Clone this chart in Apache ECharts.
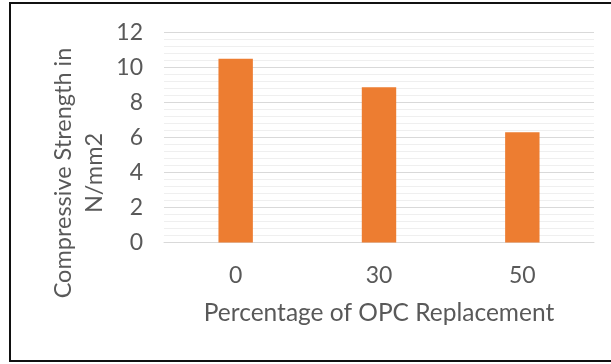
<!DOCTYPE html>
<html>
<head>
<meta charset="utf-8">
<script src="https://cdn.jsdelivr.net/npm/echarts@6/dist/echarts.min.js"></script>
<style>
  html, body { margin: 0; padding: 0; background: #ffffff; }
  #chart { width: 611px; height: 364px; }
</style>
</head>
<body>
<div id="chart"></div>
<script>
// OPC replacement levels (%) and measured compressive strength (N/mm2)
const categories = ['0', '30', '50'];
const strengthValues = [10.5, 8.87, 6.3];
const yTicks = [0, 2, 4, 6, 8, 10, 12];

const xTitle = 'Percentage of OPC Replacement';
const yTitle = 'Compressive Strength in\nN/mm2';

const textColor = '#595959';
const fontFamily = 'Lato, "Open Sans", sans-serif';

const chart = echarts.init(document.getElementById('chart'), null, { renderer: 'canvas' });

chart.setOption({
  backgroundColor: '#ffffff',
  animation: false,
  grid: { left: 164, right: 17, top: 32.5, bottom: 121.5, containLabel: false },
  xAxis: {
    type: 'category',
    data: categories,
    axisLine: { show: true, lineStyle: { color: '#d9d9d9', width: 1 } },
    axisTick: { show: false },
    axisLabel: { color: textColor, fontFamily: fontFamily, fontSize: 23, margin: 22 },
    name: xTitle,
    nameLocation: 'middle',
    nameGap: 58,
    nameTextStyle: { color: textColor, fontFamily: fontFamily, fontSize: 24.5 }
  },
  yAxis: {
    type: 'value',
    min: yTicks[0],
    max: yTicks[yTicks.length - 1],
    interval: yTicks[1] - yTicks[0],
    axisLine: { show: false },
    axisTick: { show: false },
    axisLabel: { color: textColor, fontFamily: fontFamily, fontSize: 23, margin: 21 },
    splitLine: { show: true, lineStyle: { color: '#d9d9d9', width: 1 } },
    minorTick: { show: false, splitNumber: 5 },
    minorSplitLine: { show: true, lineStyle: { color: '#efefef', width: 1 } }
  },
  series: [{
    type: 'bar',
    data: strengthValues,
    barWidth: '24%',
    itemStyle: { color: '#ed7d31' }
  }],
  graphic: [
    {
      type: 'rect',
      shape: { x: 10, y: 3, width: 603, height: 358 },
      style: { fill: 'none', stroke: '#111111', lineWidth: 2 },
      silent: true,
      z: 100
    },
    {
      type: 'text',
      x: 79,
      y: 173,
      rotation: Math.PI / 2,
      style: {
        text: yTitle,
        fill: textColor,
        font: '23.5px ' + fontFamily,
        lineHeight: 31,
        align: 'center',
        verticalAlign: 'middle'
      }
    }
  ]
});
</script>
</body>
</html>
